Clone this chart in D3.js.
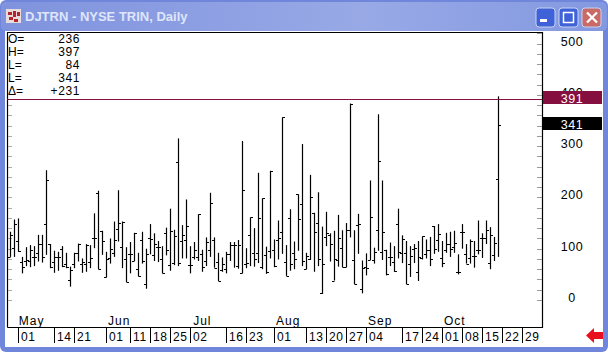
<!DOCTYPE html>
<meta charset="utf-8">
<html>
<script src="https://d3js.org/d3.v7.min.js"></script>
<style>
    html, body { margin: 0; padding: 0; background: #fff; overflow: hidden; }
    text { font-family: "Liberation Sans", Arial, sans-serif; }
</style>
<body>
<div id="my_dataviz"></div>
<script>

    // NYSE TRIN daily bars
    const highs = [133,157,159,84,103,107,105,127,127,253,109,96,94,105,92,65,92,110,81,109,107,169,213,135,94,120,153,214,153,
        103,113,131,92,133,100,148,130,115,105,141,178,137,315,146,196,105,113,167,98,122,209,122,92,83,94,113,113,117,310,
        101,161,140,248,198,104,252,118,155,356,107,177,114,206,304,92,244,170,210,143,172,130,135,166,136,150,383,136,168,77,
        91,233,102,362,233,98,112,105,178,126,115,105,109,115,124,118,123,144,148,115,131,133,135,89,148,109,118,115,155,130,155,142,123,397];
    const lows = [84,84,94,52,66,64,66,75,73,88,62,53,57,64,62,26,62,75,53,55,62,101,60,88,44,71,84,114,62,
        35,52,76,46,71,22,89,76,74,52,87,57,68,66,81,81,52,79,76,55,66,84,63,37,55,52,76,63,61,52,
        62,66,65,72,60,51,81,64,79,90,47,57,60,96,66,60,78,55,66,12,105,75,38,65,64,64,122,31,90,13,
        48,78,71,96,78,48,66,55,81,72,31,45,72,37,79,81,66,90,94,64,92,84,92,50,100,71,71,63,89,82,109,60,76,84];
    const opens = [84,101,115,75,76,76,83,91,110,148,109,75,84,99,71,39,71,91,70,70,75,120,209,135,44,81,91,138,103,
        79,89,76,61,117,32,120,87,103,79,130,69,72,269,115,116,68,83,84,90,76,98,116,74,59,61,89,107,66,52,
        71,127,92,92,64,88,96,97,117,133,75,159,91,206,188,60,79,170,150,13,122,127,38,78,101,64,136,78,146,21,
        65,78,77,136,94,98,83,74,149,92,92,70,100,54,81,89,98,144,116,81,97,109,103,55,133,89,81,85,97,120,120,72,87,236];
    const closes = [127,148,96,65,78,97,83,110,83,234,64,84,84,66,64,58,91,110,75,107,81,120,60,115,80,99,117,150,153,
        35,89,130,47,76,90,118,110,103,53,98,135,124,72,126,144,68,98,167,65,113,190,63,37,71,90,107,107,107,215,
        73,161,79,159,198,55,252,66,120,356,47,71,79,157,76,86,200,132,79,70,130,109,79,120,64,136,383,31,148,62,
        63,162,94,271,133,50,83,56,94,118,32,85,102,84,124,98,79,100,128,72,109,100,112,55,133,71,115,85,98,121,136,126,112,341];

    // bottom axis, bar number where each date starts
    const dateBars = [2,11,16,24,30,35,40,45,54,59,66,74,79,84,89,98,103,108,113,118,123,128];
    const dateLabels = ["01","14","21","01","11","18","25","02","16","23","01","13","20","27","04","17","24","01","08","15","22","29"];
    const monthBars = [2.2,24.5,45.8,66.5,89.5,108.5];
    const monthLabels = ["May","Jun","Jul","Aug","Sep","Oct"];

    const priceTicks = [500,400,300,200,100,0];
    const minorTicks = d3.range(0, 521, 20);
    const readout = [["O=","236"],["H=","397"],["L=","84"],["L=","341"],["\u0394=","+231"]];
    const lastHigh = 391, lastClose = 341;

    const width = 608, height = 352;
    const plot = {left: 7, right: 542, top: 32, bottom: 327};

    const svg = d3.select("#my_dataviz")
      .append("svg")
        .attr("width", width)
        .attr("height", height)
        .style("display", "block");

    // window frame
    const defs = svg.append("defs");
    const grad = defs.append("linearGradient").attr("id", "titlebar").attr("x1", 0).attr("x2", 1).attr("y1", 0).attr("y2", 0);
    grad.append("stop").attr("offset", "0%").attr("stop-color", "#7f93de");
    grad.append("stop").attr("offset", "60%").attr("stop-color", "#98a9e6");
    grad.append("stop").attr("offset", "100%").attr("stop-color", "#8398e0");

    svg.append("rect").attr("width", width).attr("height", height).attr("rx", 6).attr("fill", "#6f86da");
    svg.append("rect").attr("x", 1).attr("y", 2).attr("width", width - 2).attr("height", 29).attr("rx", 5).attr("fill", "url(#titlebar)");
    svg.append("rect").attr("x", 5).attr("y", 31).attr("width", 598).attr("height", 316).attr("fill", "#fff");

    // title bar icon
    const icon = svg.append("g");
    icon.append("rect").attr("x", 6).attr("y", 9).attr("width", 15).attr("height", 14).attr("fill", "#e8dcdc");
    icon.selectAll("rect.b")
      .data([[8,12,4,3],[13,11,3,6],[17,12,3,4],[9,17,4,3],[14,19,4,3]])
      .join("rect")
        .attr("x", d => d[0]).attr("y", d => d[1]).attr("width", d => d[2]).attr("height", d => d[3])
        .attr("fill", "#b3262c");

    svg.append("text").attr("x", 25).attr("y", 21)
        .attr("font-size", 13).attr("font-weight", "bold").attr("fill", "#dfe5fa")
        .text("DJTRN - NYSE TRIN, Daily");

    // title bar buttons
    const buttons = svg.selectAll("g.btn")
      .data([{x: 536, c: "#3f62d8"}, {x: 559, c: "#3f62d8"}, {x: 582, c: "#c96a66"}])
      .join("g")
        .attr("transform", d => `translate(${d.x},8)`);
    buttons.append("rect").attr("width", 19).attr("height", 19).attr("rx", 3)
        .attr("fill", d => d.c).attr("stroke", "#c9d3f3");
    svg.append("rect").attr("x", 540).attr("y", 19).attr("width", 7).attr("height", 3).attr("fill", "#fff");
    svg.append("rect").attr("x", 563.5).attr("y", 12.5).attr("width", 10).attr("height", 10).attr("fill", "none").attr("stroke", "#fff").attr("stroke-width", 1.5);
    svg.append("path").attr("d", "M587 12.5L597 22.5M597 12.5L587 22.5").attr("stroke", "#fff").attr("stroke-width", 2.2);

    // scales
    const x = d3.scaleLinear().domain([0, 122]).range([10, 498]);
    const y = d3.scaleLinear().domain([0, 500]).range([300, 43.5]);

    // plot box
    svg.append("path")
        .attr("d", `M${plot.left + .5} ${plot.bottom + .5}V${plot.top + .5}H${plot.right + .5}V${plot.bottom + .5}H${plot.left + .5}`)
        .attr("fill", "none").attr("stroke", "#000").attr("stroke-width", 1.2);

    // small grey ticks on both sides of the box, left ones stop under the readout
    svg.selectAll("line.minorR")
      .data(minorTicks.filter(d => y(d) < plot.bottom && y(d) > plot.top))
      .join("line")
        .attr("x1", plot.right - 5).attr("x2", plot.right)
        .attr("y1", d => Math.round(y(d)) + .5).attr("y2", d => Math.round(y(d)) + .5)
        .attr("stroke", "#999");
    svg.selectAll("line.minorL")
      .data(minorTicks.filter(d => y(d) < plot.bottom && d < lastHigh))
      .join("line")
        .attr("x1", plot.left + 1).attr("x2", plot.left + 5)
        .attr("y1", d => Math.round(y(d)) + .5).attr("y2", d => Math.round(y(d)) + .5)
        .attr("stroke", "#aaa");

    // price labels
    svg.selectAll("text.price")
      .data(priceTicks)
      .join("text")
        .attr("x", 572)
        .attr("y", d => y(d) + 2)
        .attr("text-anchor", "middle")
        .attr("font-size", 12.5)
        .attr("letter-spacing", .6)
        .attr("fill", "#000")
        .text(d => d);

    // bars
    const idx = d3.range(highs.length);
    const bars = svg.append("g");
    bars.selectAll("line.hl")
      .data(idx)
      .join("line")
        .attr("x1", i => x(i) + .5).attr("x2", i => x(i) + .5)
        .attr("y1", i => y(highs[i])).attr("y2", i => y(lows[i]))
        .attr("stroke", "#000")
        .attr("stroke-width", 1.2);
    bars.selectAll("line.open")
      .data(idx)
      .join("line")
        .attr("x1", i => x(i) - 2).attr("x2", i => x(i) + .5)
        .attr("y1", i => Math.round(y(opens[i])) + .5).attr("y2", i => Math.round(y(opens[i])) + .5)
        .attr("stroke", "#000");
    bars.selectAll("line.close")
      .data(idx)
      .join("line")
        .attr("x1", i => x(i) + .5).attr("x2", i => x(i) + 3)
        .attr("y1", i => Math.round(y(closes[i])) + .5).attr("y2", i => Math.round(y(closes[i])) + .5)
        .attr("stroke", "#000");

    // cursor line and tags
    svg.append("line")
        .attr("x1", plot.left).attr("x2", plot.right)
        .attr("y1", Math.round(y(lastHigh)) + .5).attr("y2", Math.round(y(lastHigh)) + .5)
        .attr("stroke", "#85103f");
    const tags = [{v: lastHigh, c: "#85103f"}, {v: lastClose, c: "#000"}];
    svg.selectAll("rect.tag")
      .data(tags)
      .join("rect")
        .attr("x", 543).attr("width", 59)
        .attr("y", d => Math.round(y(d.v)) - 8).attr("height", 13)
        .attr("fill", d => d.c);
    svg.selectAll("text.tag")
      .data(tags)
      .join("text")
        .attr("x", 572)
        .attr("y", d => y(d.v) + 3.5)
        .attr("text-anchor", "middle")
        .attr("font-size", 12.5)
        .attr("letter-spacing", .6)
        .attr("fill", "#fff")
        .text(d => d.v);

    // readout top left
    const rows = svg.selectAll("g.row")
      .data(readout)
      .join("g")
        .attr("transform", (d, i) => `translate(0,${43 + i * 13})`);
    rows.append("text").attr("x", 8).attr("font-size", 12).text(d => d[0]);
    rows.append("text").attr("x", 80).attr("text-anchor", "end").attr("font-size", 12).attr("letter-spacing", .6).text(d => d[1]);

    // date axis
    svg.selectAll("text.month")
      .data(monthBars)
      .join("text")
        .attr("x", d => x(d))
        .attr("y", 325)
        .attr("font-size", 12)
        .attr("letter-spacing", 1)
        .text((d, i) => monthLabels[i]);
    svg.selectAll("line.date")
      .data(dateBars)
      .join("line")
        .attr("x1", d => x(d) + .5).attr("x2", d => x(d) + .5)
        .attr("y1", plot.bottom).attr("y2", 343)
        .attr("stroke", "#000");
    svg.selectAll("text.date")
      .data(dateBars)
      .join("text")
        .attr("x", d => x(d) + 3)
        .attr("y", 340.5)
        .attr("font-size", 12)
        .attr("letter-spacing", .6)
        .text((d, i) => dateLabels[i]);

    // red arrow bottom right
    svg.append("path")
        .attr("d", "M586 335.5L594 328V332H603V339H594V343Z")
        .attr("fill", "#e8101c");

</script>
</body>
</html>
